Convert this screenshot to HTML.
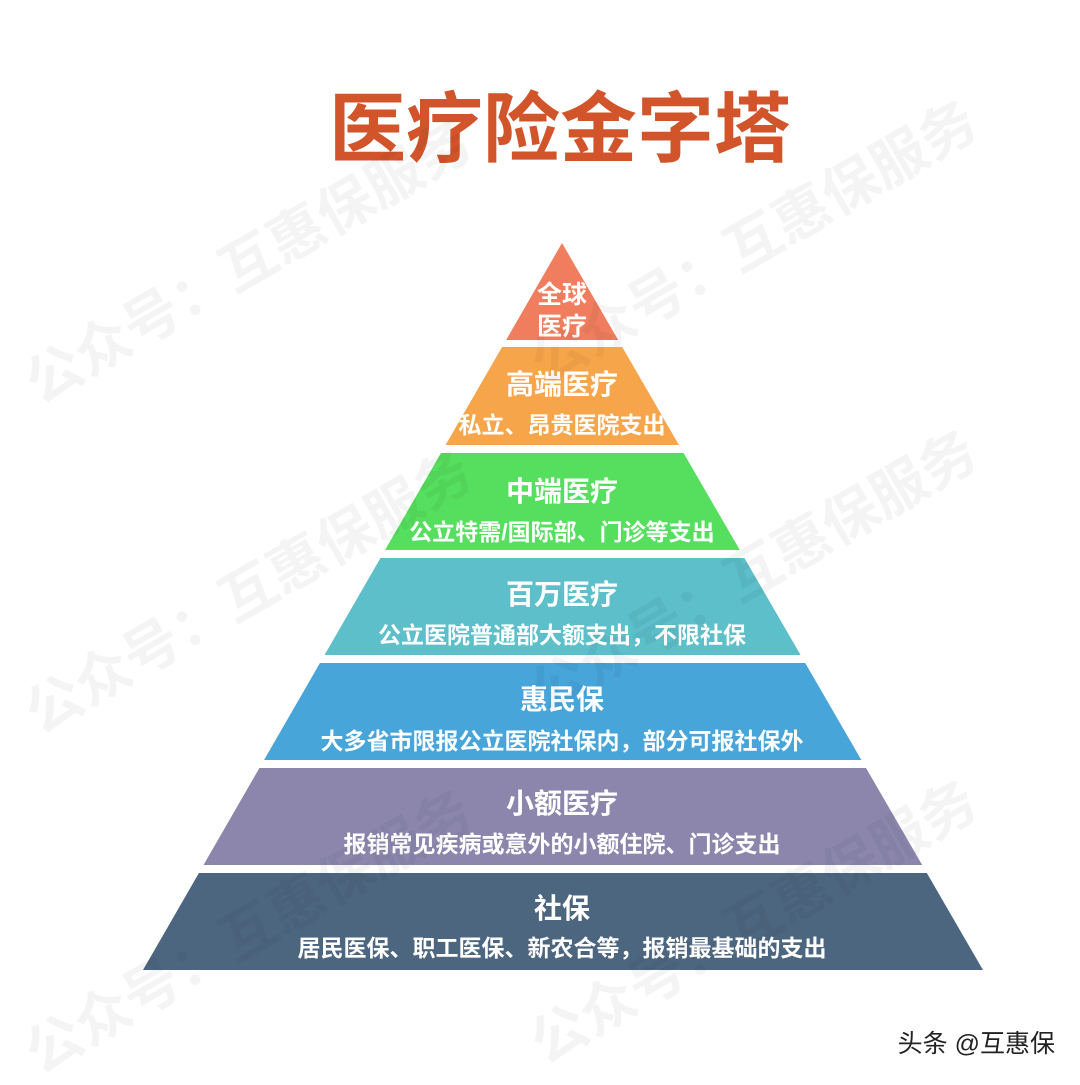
<!DOCTYPE html>
<html><head><meta charset="utf-8"><style>
body{margin:0;width:1080px;height:1080px;background:#fff;overflow:hidden;font-family:"Liberation Sans","Noto Sans CJK SC",sans-serif;}
</style></head><body>
<svg width="1080" height="1080" viewBox="0 0 1080 1080" xmlns="http://www.w3.org/2000/svg" font-family="'Liberation Sans','Noto Sans CJK SC',sans-serif">
<defs><clipPath id="tri"><polygon points="562,243 143,970 983,970"/></clipPath></defs>
<text x="560" y="156" text-anchor="middle" font-size="77" font-weight="bold" fill="#d2542b">医疗险金字塔</text>
<g clip-path="url(#tri)">
<rect x="0" y="243" width="1080" height="97" fill="#f07e5e"/>
<rect x="0" y="347" width="1080" height="98" fill="#f7a54a"/>
<rect x="0" y="453" width="1080" height="97" fill="#56de5e"/>
<rect x="0" y="558" width="1080" height="97" fill="#5cbfca"/>
<rect x="0" y="663" width="1080" height="97" fill="#48a5da"/>
<rect x="0" y="768" width="1080" height="97" fill="#8c86ad"/>
<rect x="0" y="873" width="1080" height="97" fill="#4d667f"/>
</g>
<g fill="#fff" font-weight="bold" text-anchor="middle">
<text x="562" y="303" font-size="25">全球</text>
<text x="562" y="335" font-size="25">医疗</text>
<text x="562" y="394" font-size="28">高端医疗</text>
<text x="562" y="433" font-size="23">私立、昂贵医院支出</text>
<text x="562" y="501" font-size="28">中端医疗</text>
<text x="562" y="540" font-size="23">公立特需/国际部、门诊等支出</text>
<text x="562" y="604" font-size="28">百万医疗</text>
<text x="562" y="643" font-size="23">公立医院普通部大额支出，不限社保</text>
<text x="562" y="709" font-size="28">惠民保</text>
<text x="562" y="749" font-size="23">大多省市限报公立医院社保内，部分可报社保外</text>
<text x="562" y="813" font-size="28">小额医疗</text>
<text x="562" y="852" font-size="23">报销常见疾病或意外的小额住院、门诊支出</text>
<text x="562" y="918" font-size="28">社保</text>
<text x="562" y="956" font-size="23">居民医保、职工医保、新农合等，报销最基础的支出</text>
</g>
<g fill="#000" fill-opacity="0.045" font-size="56" font-weight="bold">
<text transform="translate(40,405) rotate(-30)">公众号：互惠保服务</text>
<text transform="translate(545,385) rotate(-30)">公众号：互惠保服务</text>
<text transform="translate(40,735) rotate(-30)">公众号：互惠保服务</text>
<text transform="translate(545,715) rotate(-30)">公众号：互惠保服务</text>
<text transform="translate(40,1075) rotate(-30)">公众号：互惠保服务</text>
<text transform="translate(545,1065) rotate(-30)">公众号：互惠保服务</text>
</g>
<text x="1055" y="1052" text-anchor="end" font-size="25" fill="#222">头条 @互惠保</text>
</svg>
</body></html>
